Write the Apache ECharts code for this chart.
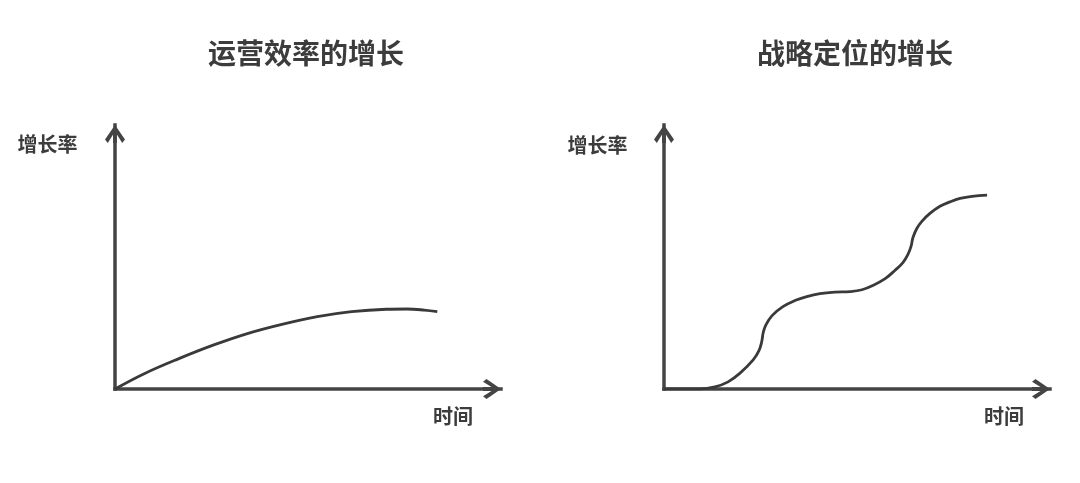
<!DOCTYPE html>
<html>
<head>
<meta charset="utf-8">
<script src="https://cdn.jsdelivr.net/npm/echarts@6/dist/echarts.min.js"></script>
<style>
html,body{margin:0;padding:0;background:#fff;}
#chart{width:1080px;height:483px;}
</style>
</head>
<body>
<div id="chart"></div>
<script>
// Titles and axis names
const chartTitles = ['运营效率的增长', '战略定位的增长'];
const yAxisName = '增长率';
const xAxisName = '时间';

// Left curve: operational efficiency growth  [time, growth]
const efficiencyData = [
  [0, 0], [7.7, 5.9], [16.7, 11.6], [25.6, 16.7], [34.5, 21.1], [43.5, 24.6],
  [52.4, 27.4], [61.3, 29.3], [70.3, 30.2], [75.6, 30.3], [80.1, 29.9], [83.5, 29.3]
];

// Right curve: strategic positioning growth  [time, growth]
const strategyData = [
  [0, 0], [9.3, 0], [13.2, 0.8], [16.6, 2.7], [19.7, 6.0], [23.1, 11.0], [24.6, 14.5],
  [25.3, 17.8], [25.7, 21.3], [26.4, 24.3], [28.0, 27.8], [30.8, 31.2], [33.9, 33.5],
  [37.0, 35.0], [40.4, 36.1], [44.3, 36.7], [48.2, 36.9], [51.3, 37.6], [54.1, 39.2],
  [57.3, 41.8], [59.8, 44.9], [61.9, 47.9], [63.2, 51.0], [64.0, 54.0], [64.5, 57.4],
  [65.5, 60.8], [66.8, 63.5], [68.9, 66.5], [71.5, 69.2], [74.1, 70.9], [76.7, 72.2],
  [79.8, 73.0], [83.7, 73.4]
];

const chart = echarts.init(document.getElementById('chart'), null, {renderer: 'canvas'});
const axisColor = '#444444';
const textColor = '#3c3c3c';
const fontFamily = '"Noto Sans CJK SC", "Noto Sans", sans-serif';
const arrowPath = 'path://M0,0 L10,14.5 L7.2,18 L1.9,9.5 L1.9,18 L-1.9,18 L-1.9,9.5 L-7.2,18 L-10,14.5 Z';

function axis(type, gridIndex) {
  return {
    type: 'value', gridIndex: gridIndex, min: 0, max: 100,
    axisLine: {
      show: true, onZero: false,
      lineStyle: {color: axisColor, width: 3.5, cap: 'square'},
      symbol: ['none', arrowPath],
      symbolSize: [20, 18],
      symbolOffset: [0, -9]
    },
    axisTick: {show: false},
    axisLabel: {show: false},
    splitLine: {show: false}
  };
}

function txt(text, x, y, size) {
  return {
    type: 'text', x: x, y: y,
    style: {
      text: text, fill: textColor, font: 'bold ' + size + 'px ' + fontFamily,
      align: 'center', verticalAlign: 'middle'
    }
  };
}

chart.setOption({
  animation: false,
  backgroundColor: '#ffffff',
  grid: [
    {left: 115, top: 125, width: 386, height: 264},
    {left: 664, top: 125, width: 386, height: 264}
  ],
  xAxis: [axis('x', 0), axis('x', 1)],
  yAxis: [axis('y', 0), axis('y', 1)],
  graphic: [
    txt(chartTitles[0], 306, 53, 28),
    txt(chartTitles[1], 855, 53, 28),
    txt(yAxisName, 47.5, 144, 20),
    txt(yAxisName, 597.5, 145, 20),
    txt(xAxisName, 453, 416, 20),
    txt(xAxisName, 1004, 416, 20)
  ],
  series: [
    {
      type: 'line', xAxisIndex: 0, yAxisIndex: 0, data: efficiencyData,
      smooth: 0.4, showSymbol: false, silent: true,
      lineStyle: {color: '#3a3a3a', width: 2.8}
    },
    {
      type: 'line', xAxisIndex: 1, yAxisIndex: 1, data: strategyData,
      smooth: 0.4, showSymbol: false, silent: true,
      lineStyle: {color: '#3a3a3a', width: 2.8}
    }
  ]
});
</script>
</body>
</html>
